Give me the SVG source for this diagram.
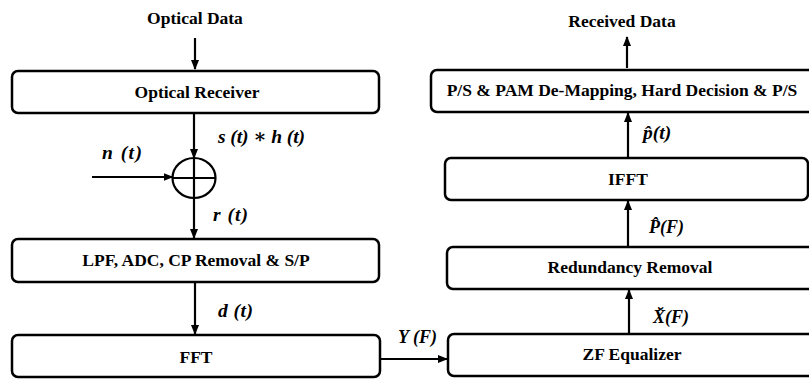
<svg xmlns="http://www.w3.org/2000/svg" width="809" height="379" viewBox="0 0 809 379">
<style>
.box{fill:#fff;stroke:#000;stroke-width:2.5}
.t{font-family:"Liberation Serif","DejaVu Serif",serif;font-weight:700;font-size:17.5px;text-anchor:middle;dominant-baseline:central;fill:#000}
.m{font-family:"Liberation Serif","DejaVu Serif",serif;font-weight:700;font-style:italic;font-size:18px;fill:#000}
.l{font-size:19.5px}
.c{stroke:#000;stroke-width:2.2;fill:none}
</style>
<defs>
<marker id="ah" markerWidth="10" markerHeight="8" refX="9" refY="4" orient="auto" markerUnits="userSpaceOnUse">
<path d="M0,0 L10,4 L0,8 Z" fill="#000"/>
</marker>
</defs>
<rect width="809" height="379" fill="#fff"/>
<text class="t" x="195" y="18">Optical Data</text>
<text class="t" x="622" y="21">Received Data</text>
<g id="optical-receiver"><rect class="box" x="12" y="71" width="367" height="42" rx="6"/><text class="t" x="197" y="92">Optical Receiver</text></g>
<g id="adder"><ellipse class="c" cx="194" cy="178" rx="21.5" ry="20"/><line class="c" x1="172.5" y1="178" x2="215.5" y2="178"/><line class="c" x1="194" y1="158" x2="194" y2="198"/></g>
<g id="lpf"><rect class="box" x="12" y="239" width="367" height="43" rx="6"/><text class="t" x="196" y="260">LPF, ADC, CP Removal &amp; S/P</text></g>
<g id="fft"><rect class="box" x="12" y="335" width="368" height="42" rx="6"/><text class="t" x="196" y="357">FFT</text></g>
<g id="ps"><rect class="box" x="431" y="70" width="384" height="42" rx="6"/><text class="t" x="622" y="90">P/S &amp; PAM De-Mapping, Hard Decision &amp; P/S</text></g>
<g id="ifft"><rect class="box" x="445" y="158" width="363" height="42" rx="6"/><text class="t" x="628" y="179">IFFT</text></g>
<g id="redundancy"><rect class="box" x="447" y="247" width="368" height="42" rx="6"/><text class="t" x="630" y="267">Redundancy Removal</text></g>
<g id="zf"><rect class="box" x="448" y="334" width="368" height="42" rx="6"/><text class="t" x="632" y="354">ZF Equalizer</text></g>
<g id="connectors">
<line class="c" x1="195" y1="38" x2="195" y2="69" marker-end="url(#ah)"/>
<line class="c" x1="194" y1="114" x2="194" y2="158" marker-end="url(#ah)"/>
<line class="c" x1="92" y1="177" x2="172.5" y2="177" marker-end="url(#ah)"/>
<line class="c" x1="194" y1="198" x2="194" y2="238" marker-end="url(#ah)"/>
<line class="c" x1="195" y1="283" x2="195" y2="334" marker-end="url(#ah)"/>
<line class="c" x1="381" y1="359" x2="447" y2="359" marker-end="url(#ah)"/>
<line class="c" x1="629" y1="333" x2="629" y2="290" marker-end="url(#ah)"/>
<line class="c" x1="628" y1="246" x2="628" y2="201" marker-end="url(#ah)"/>
<line class="c" x1="628" y1="157" x2="628" y2="113" marker-end="url(#ah)"/>
<line class="c" x1="627" y1="68" x2="627" y2="37" marker-end="url(#ah)"/>
<text class="m l" x="218" y="143" textLength="87">s (t) ∗ h (t)</text>
<text class="m l" x="102" y="159" textLength="40">n (t)</text>
<text class="m l" x="213" y="221" textLength="35">r (t)</text>
<text class="m l" x="218" y="317" textLength="35">d (t)</text>
<text class="m" x="398" y="343" textLength="39">Y (F)</text>
<text class="m l" x="643" y="139">p̂(t)</text>
<text class="m" x="649" y="233">P̂(F)</text>
<text class="m" x="653" y="323">X̆(F)</text>
</g>
</svg>
